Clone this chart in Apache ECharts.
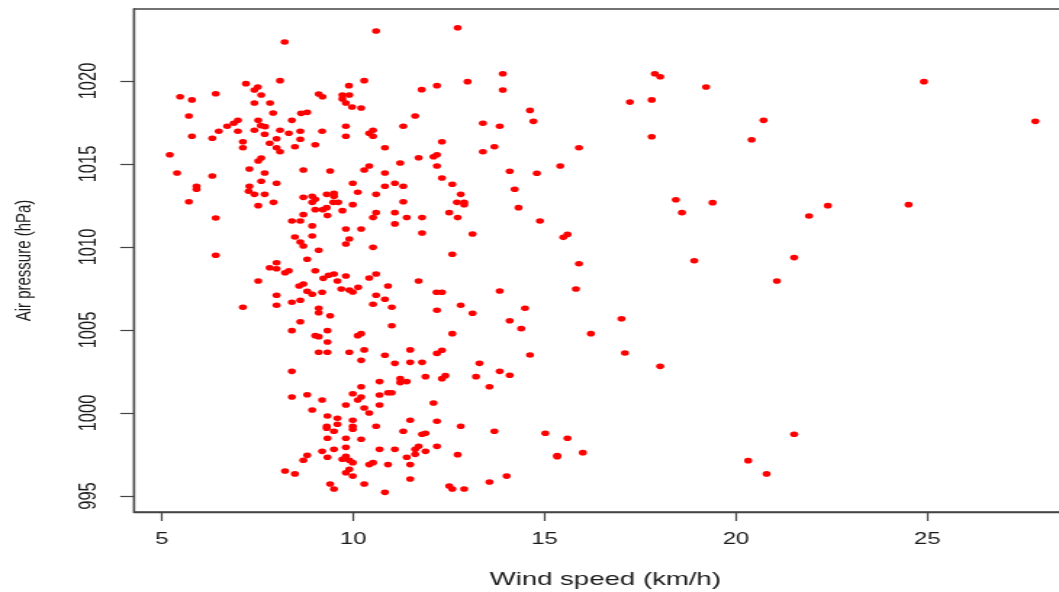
<!DOCTYPE html>
<html>
<head>
<meta charset="utf-8">
<script src="https://cdn.jsdelivr.net/npm/echarts@6/dist/echarts.min.js"></script>
<style>
html,body{margin:0;padding:0;background:#fff;}
#wrap{width:1059px;height:592px;overflow:hidden;position:relative;background:#fff;}
#chart{width:730px;height:592px;transform:scaleX(1.45068);transform-origin:0 0;}
</style>
</head>
<body>
<div id="wrap"><div id="chart"></div></div>
<script>
// Data (wind speed km/h, air pressure hPa)
const windSpeed = [
10.60,12.73,8.21,8.09,10.29,12.99,7.20,7.51,7.42,9.89,12.19,11.79,6.41,5.48,5.79,7.60,9.10,9.20,9.72,9.90,
9.72,9.81,7.42,7.83,9.97,10.21,5.71,7.91,8.64,8.80,11.62,6.99,6.88,6.71,7.52,8.40,13.39,7.59,7.70,9.81,
11.31,6.49,6.99,7.42,8.09,8.32,8.62,9.19,10.52,10.42,10.52,5.79,6.32,7.69,8.00,8.62,9.81,7.12,7.82,12.32,
7.12,8.00,8.09,8.48,9.01,10.83,13.39,5.21,11.71,12.10,12.19,7.52,7.60,11.23,12.19,10.42,10.29,7.29,5.40,6.32,
7.69,8.70,9.40,10.83,12.32,
7.60,8.00,7.29,5.91,5.91,9.99,10.83,11.09,11.31,12.59,7.27,7.42,7.69,8.70,8.93,9.01,8.93,9.31,9.50,9.50,
10.12,10.60,12.81,5.71,7.92,9.48,9.61,9.99,11.31,12.71,12.90,12.90,7.52,9.01,9.21,9.31,9.72,8.70,9.33,10.60,
11.09,12.51,6.41,8.40,8.62,10.52,11.40,11.80,12.73,11.09,8.93,9.81,10.21,11.80,13.12,8.48,8.93,9.90,8.62,8.70,
9.81,10.52,9.10,6.41,12.59,8.80,8.00,7.82,8.00,8.22,8.32,9.01,9.22,9.36,9.50,9.81,10.60,10.42,7.52,9.59,
11.71,8.70,8.59,9.69,9.90,9.99,10.13,10.91,8.80,8.93,9.19,12.18,12.32,8.00,10.60,10.83,8.40,8.62,10.52,7.12,
8.00,9.10,9.10,11.01,12.81,12.19,9.40,13.12,8.62,11.01,8.40,9.33,9.01,9.10,10.12,10.21,12.59,9.33,
9.10,9.33,9.90,10.29,10.83,11.49,12.19,12.32,10.21,11.09,11.49,11.80,13.30,8.40,11.89,12.32,12.41,13.21,11.23,11.23,
11.40,10.69,10.21,13.56,9.99,10.91,11.01,10.69,8.40,8.80,9.19,10.12,10.21,9.81,10.69,12.10,8.93,10.29,10.42,9.33,
9.59,9.99,11.49,12.19,9.59,9.31,9.31,9.99,9.99,10.60,12.81,9.50,11.31,11.80,11.89,9.33,9.81,10.21,9.81,9.50,
9.19,10.69,11.09,11.71,11.62,11.62,11.89,12.19,12.73,8.80,8.70,9.33,9.72,9.81,9.90,9.99,11.40,10.42,10.52,10.91,
11.49,8.22,8.48,9.90,9.81,9.99,11.49,9.40,9.50,10.29,10.83,12.51,12.59,12.90,13.56,
13.91,13.91,14.62,13.83,14.71,13.69,15.90,14.09,14.80,15.41,14.22,14.32,14.88,15.49,15.60,17.88,18.02,19.22,17.23,17.80,
17.80,20.72,20.41,18.43,19.39,18.59,
15.90,18.91,21.07,13.83,15.82,14.49,14.09,14.39,17.01,16.21,14.62,17.10,13.83,14.09,18.02,13.69,15.02,15.60,16.00,15.33,
15.33,14.01,20.32,20.80,
24.91,27.82,22.40,21.91,24.51,21.52,21.52
];
const airPressure = [
1023.01,1023.21,1022.35,1020.02,1020.02,1019.96,1019.84,1019.64,1019.46,1019.72,1019.72,1019.48,1019.23,1019.05,1018.86,1019.16,1019.22,1019.05,1019.16,1019.16,
1018.92,1018.67,1018.67,1018.67,1018.43,1018.37,1017.89,1018.07,1018.05,1018.11,1017.89,1017.63,1017.45,1017.27,1017.63,1017.63,1017.45,1017.31,1017.25,1017.27,
1017.27,1016.97,1016.97,1017.03,1017.03,1016.85,1016.97,1016.97,1017.03,1016.85,1016.67,1016.67,1016.55,1016.79,1016.52,1016.49,1016.67,1016.34,1016.25,1016.34,
1015.98,1015.98,1015.74,1016.04,1016.16,1015.98,1015.74,1015.56,1015.38,1015.44,1015.56,1015.18,1015.36,1015.06,1014.88,1014.88,1014.64,1014.70,1014.46,1014.28,
1014.46,1014.64,1014.58,1014.46,1014.16,
1013.96,1013.84,1013.66,1013.66,1013.48,1013.84,1013.66,1013.84,1013.66,1013.78,1013.36,1013.17,1013.17,1012.99,1013.05,1012.87,1012.69,1013.17,1013.23,1013.05,
1013.30,1013.17,1013.17,1012.73,1012.69,1012.69,1012.69,1012.55,1012.73,1012.69,1012.69,1012.55,1012.49,1012.25,1012.25,1012.37,1012.19,1011.95,1011.89,1012.07,
1012.07,1012.07,1011.75,1011.57,1011.57,1011.77,1011.77,1011.77,1011.77,1011.39,1011.27,1011.08,1011.08,1010.84,1010.78,1010.60,1010.66,1010.48,1010.30,1010.06,
1010.18,1009.98,1009.80,1009.50,1009.56,1009.26,1009.05,1008.75,1008.69,1008.45,1008.57,1008.57,1008.11,1008.30,1008.37,1008.25,1008.37,1008.13,1007.95,1007.95,
1007.95,1007.77,1007.65,1007.47,1007.41,1007.29,1007.57,1007.65,1007.33,1007.15,1007.27,1007.27,1007.27,1007.09,1007.09,1006.85,1006.67,1006.79,1006.55,1006.37,
1006.49,1006.31,1006.04,1006.37,1006.49,1006.19,1005.86,1006.01,1005.50,1005.26,1004.96,1004.96,1004.66,1004.60,1004.66,1004.78,1004.78,1004.28,
1003.66,1003.66,1003.66,1003.80,1003.48,1003.80,1003.59,1003.78,1003.17,1002.99,1003.05,1003.05,1002.99,1002.51,1002.19,1002.07,1002.25,1002.19,1002.07,1001.83,
1001.89,1001.89,1001.58,1001.58,1001.16,1001.22,1001.22,1001.08,1000.96,1001.10,1000.78,1000.78,1000.96,1000.48,1000.48,1000.60,1000.18,1000.30,1000.00,999.82,
999.68,999.56,999.56,999.50,999.32,999.20,999.08,999.20,999.02,999.20,999.20,998.90,998.90,998.72,998.78,998.48,998.48,998.42,997.93,997.81,
997.69,997.81,997.81,997.99,997.81,997.51,997.69,997.99,997.49,997.45,997.15,997.33,997.21,997.39,997.15,997.01,997.33,996.89,997.01,996.89,
996.89,996.51,996.33,996.61,996.40,996.20,996.02,995.72,995.42,995.72,995.22,995.60,995.42,995.42,995.84,
1020.44,1019.46,1018.23,1017.27,1017.57,1016.04,1015.98,1014.56,1014.44,1014.88,1013.48,1012.37,1011.57,1010.58,1010.76,1020.44,1020.26,1019.64,1018.73,1018.86,
1016.64,1017.63,1016.46,1012.85,1012.67,1012.07,
1008.99,1009.17,1007.95,1007.35,1007.47,1006.31,1005.56,1005.08,1005.68,1004.78,1003.49,1003.61,1002.51,1002.27,1002.81,998.90,998.78,998.48,997.61,997.37,
997.44,996.20,997.13,996.33,
1019.96,1017.57,1012.49,1011.87,1012.55,1009.36,998.72
];
const xTickValues = [5, 10, 15, 20, 25];
const yTickValues = [995, 1000, 1005, 1010, 1015, 1020];
const xTitle = 'Wind speed (km/h)';
const yTitle = 'Air pressure (hPa)';

const points = windSpeed.map((w, i) => [w, airPressure[i]]);
const axisColor = '#444444';
const textColor = '#1a1a1a';
const fontFamily = "'Liberation Sans', Arial, sans-serif";

const chart = echarts.init(document.getElementById('chart'), null, {renderer: 'canvas'});
chart.setOption({
  animation: false,
  backgroundColor: '#ffffff',
  grid: {
    left: 92.37, top: 9, width: 649.8, height: 503,
    show: true, borderColor: axisColor, borderWidth: 1.3,
    backgroundColor: 'transparent',
    containLabel: false, outerBoundsMode: 'none'
  },
  xAxis: {
    type: 'value', min: 4.276, max: 28.9,
    splitLine: {show: false},
    axisLine: {show: true, onZero: false, lineStyle: {color: axisColor, width: 1.3}},
    axisTick: {show: true, inside: false, length: 9, customValues: xTickValues, lineStyle: {color: axisColor, width: 1.2}},
    axisLabel: {show: true, customValues: xTickValues, margin: 19, color: textColor, fontSize: 16.5, fontFamily: fontFamily,
      formatter: v => String(v)},
    name: xTitle, nameLocation: 'middle', nameGap: 58,
    nameTextStyle: {color: textColor, fontSize: 19, fontFamily: fontFamily}
  },
  yAxis: {
    type: 'value', min: 994.036, max: 1024.337,
    splitLine: {show: false},
    axisLine: {show: true, onZero: false, lineStyle: {color: axisColor, width: 1.3}},
    axisTick: {show: true, inside: false, length: 9.5, customValues: yTickValues, lineStyle: {color: axisColor, width: 1.2}},
    axisLabel: {show: true, customValues: yTickValues, rotate: 90, margin: 22.5, color: textColor, fontSize: 16.5, fontFamily: fontFamily,
      formatter: v => String(v)},
    name: yTitle, nameLocation: 'middle', nameGap: 68, nameRotate: 90,
    nameTextStyle: {color: textColor, fontSize: 15, fontFamily: fontFamily}
  },
  series: [{
    type: 'scatter',
    data: points,
    symbol: 'circle',
    symbolSize: 5.6,
    itemStyle: {color: '#ff0000', opacity: 1},
    emphasis: {disabled: true},
    silent: true
  }]
});
</script>
</body>
</html>
